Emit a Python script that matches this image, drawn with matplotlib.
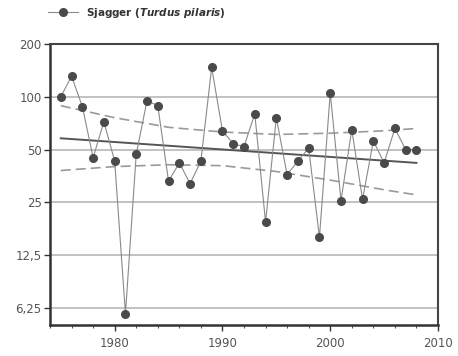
import matplotlib
matplotlib.use("Agg")
import matplotlib.pyplot as plt
from matplotlib.lines import Line2D
from matplotlib.ticker import FixedLocator, MultipleLocator

plt.rcParams['font.family'] = ['DejaVu Sans']
plt.rcParams['mathtext.fontset'] = 'custom'
plt.rcParams['mathtext.it'] = 'DejaVu Sans:italic:bold'
plt.rcParams['mathtext.rm'] = 'DejaVu Sans:bold'

# yearly index values
years = list(range(1975, 2009))
index = [100, 131, 88, 45, 72, 43, 5.8, 47, 95, 89,
         33, 42, 32, 43, 147, 64, 54, 52, 80, 19.3,
         76, 36, 43, 51, 15.8, 105, 25.6, 65, 26, 56,
         42, 66, 50, 50]

# log-linear trend and its confidence band
trend_years = [1975, 2008]
trend_vals = [58, 42]
band_years = [1975, 1980, 1985, 1990, 1995, 2000, 2005, 2008]
band_upper = [89, 76, 67, 63, 61, 62, 64, 66]
band_lower = [38, 40, 41, 40.5, 37.5, 33.5, 29.5, 27.6]

ytick_vals = [6.25, 12.5, 25, 50, 100, 200]
ytick_labels = ['6,25', '12,5', '25', '50', '100', '200']
xtick_vals = [1980, 1990, 2000, 2010]

fig = plt.figure(figsize=(4.58, 3.56), dpi=100)
ax = fig.add_axes([50/458, 1-325/356, 388/458, 281/356])

ax.set_yscale('log', base=2)
ax.set_ylim(5.0, 200)
ax.set_xlim(1974, 2010)

for v in ytick_vals:
    ax.axhline(v, color='#bdbdbd', lw=1.3, zorder=0)

ax.plot(band_years, band_upper, color='#9a9a9a', lw=1.2, dashes=(6, 3), zorder=2)
ax.plot(band_years, band_lower, color='#9a9a9a', lw=1.2, dashes=(6, 3), zorder=2)
ax.plot(trend_years, trend_vals, color='#555555', lw=1.4, zorder=3)
ax.plot(years, index, color='#8a8a8a', lw=0.8, marker='o', markersize=5.5,
        markerfacecolor='#4a4a4a', markeredgecolor='#4a4a4a', zorder=4)

ax.yaxis.set_major_locator(FixedLocator(ytick_vals))
ax.yaxis.set_minor_locator(FixedLocator([]))
ax.set_yticklabels(ytick_labels)
ax.xaxis.set_major_locator(FixedLocator(xtick_vals))
ax.xaxis.set_minor_locator(MultipleLocator(2))

ax.tick_params(axis='both', which='major', labelsize=8.5, labelcolor='#555555',
               color='#333333', length=4.5, width=1.0, direction='out')
ax.tick_params(axis='y', which='major', pad=1.5)
ax.tick_params(axis='x', which='major', pad=4)
ax.tick_params(axis='x', which='minor', color='#555555', length=2.5, width=0.8,
               direction='out')

for side in ['left', 'bottom']:
    ax.spines[side].set_linewidth(1.8)
    ax.spines[side].set_color('#333333')
for side in ['top', 'right']:
    ax.spines[side].set_linewidth(1.5)
    ax.spines[side].set_color('#444444')

handle = Line2D([], [], color='#8a8a8a', lw=0.8, marker='o', markersize=5.5,
                markerfacecolor='#4a4a4a', markeredgecolor='#4a4a4a')
fig.legend([handle], [r'Sjagger ($\mathit{Turdus\ pilaris}$)'],
           loc='center left', bbox_to_anchor=(48/458, 1-13/356),
           bbox_transform=fig.transFigure, frameon=False, borderpad=0,
           borderaxespad=0, handlelength=2.9, handletextpad=0.7,
           prop={'size': 7.5, 'weight': 'bold'}, labelcolor='#333333')

fig.savefig('out.png', dpi=100)
